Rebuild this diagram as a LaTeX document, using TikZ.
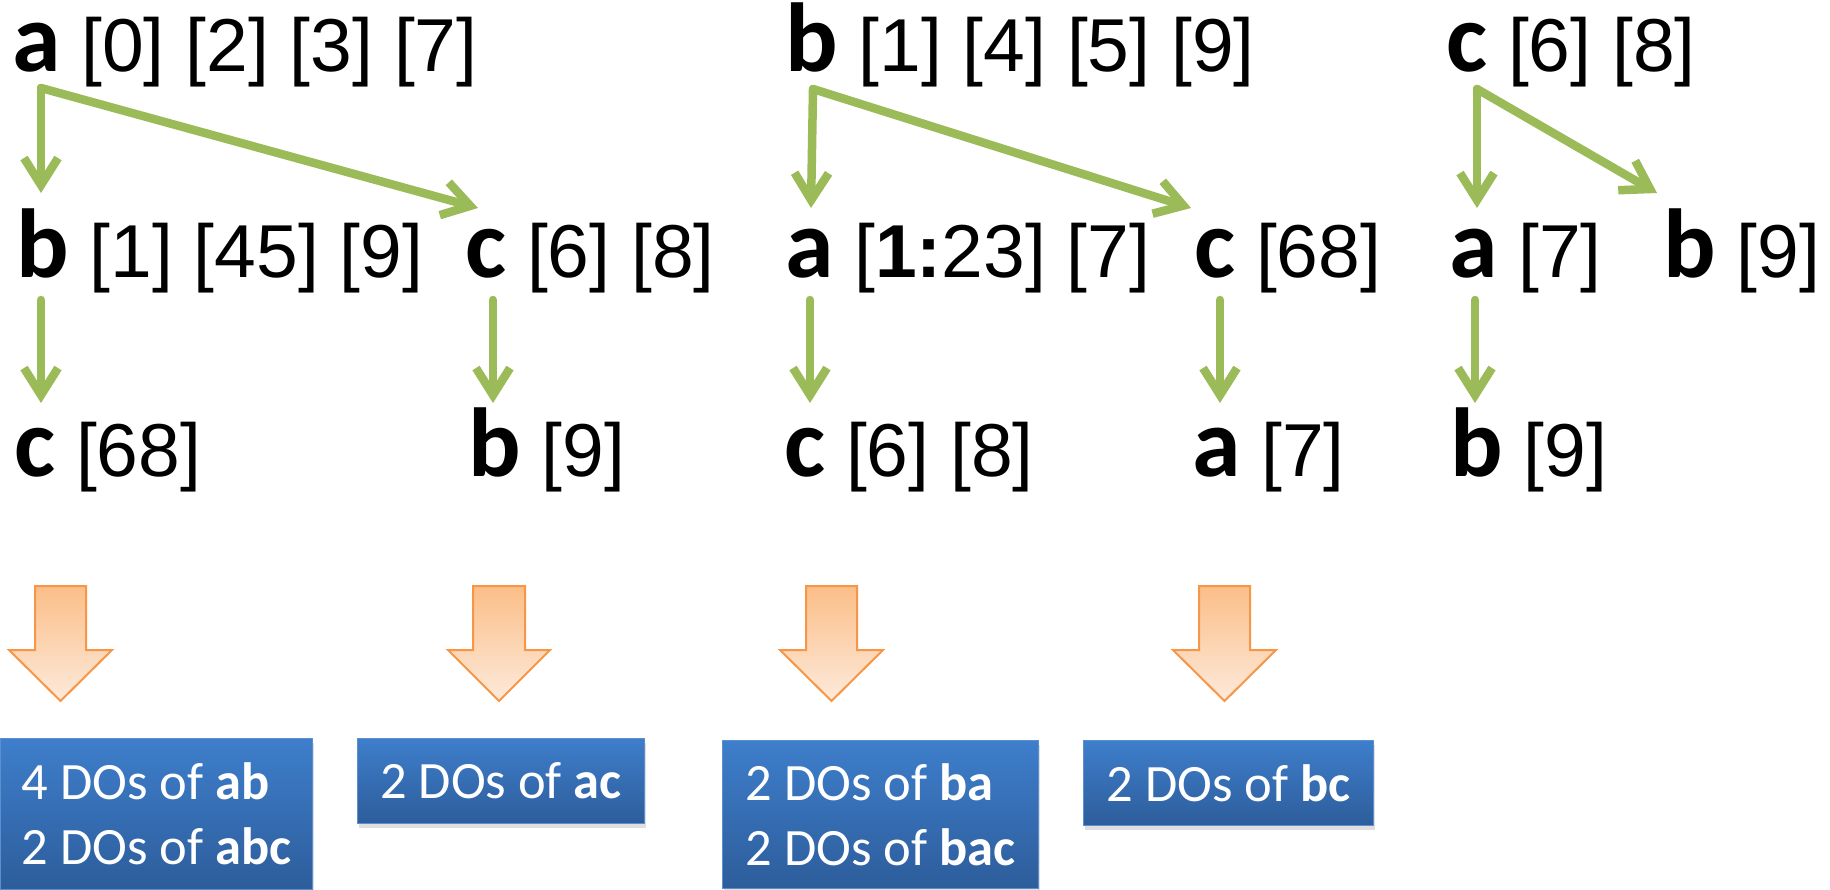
\documentclass[tikz,border=0pt]{standalone}
\usepackage{fontspec}
\usetikzlibrary{arrows.meta,shadows}
\newfontfamily\numf{Liberation Sans}
\newfontfamily\letf{Carlito}
\definecolor{gr}{HTML}{9BBB59}
\definecolor{orTop}{HTML}{FBBE88}
\definecolor{orBot}{HTML}{FDEADB}
\definecolor{orLine}{HTML}{F79646}
\definecolor{blTop}{HTML}{3E7ECB}
\definecolor{blBot}{HTML}{2D5D9B}
\definecolor{blLine}{HTML}{5B8FD0}
\newcommand\Lt[1]{{\letf\bfseries\fontsize{98}{100}\selectfont #1}}
\tikzset{
  lbl/.style={anchor=base west, inner sep=0pt, font=\numf\fontsize{75}{80}\selectfont},
  garrow/.style={draw=gr, line width=8.5pt, line cap=round, line join=round,
    -{Straight Barb[length=27pt,width=34pt]}},
  blockarrow/.style={draw=orLine, line width=2pt, top color=orTop, bottom color=orBot, line join=miter},
  dobox/.style={anchor=north west, draw=blLine, line width=1pt, top color=blTop, bottom color=blBot,
    text=white, align=left, font=\letf\fontsize{52.5}{65}\selectfont, inner sep=0pt,
    drop shadow={opacity=0.25, shadow xshift=1pt, shadow yshift=-4pt}}
}
\begin{document}
\begin{tikzpicture}[x=1pt,y=-1pt]
\useasboundingbox (0,0) rectangle (1830,889);
% row 1
\node[lbl] (a0) at (12,71) {\Lt{a} [0] [2] [3] [7]};
\node[lbl] (b0) at (785,71) {\Lt{b} [1] [4] [5] [9]};
\node[lbl] (c0) at (1446,71) {\Lt{c} [6] [8]};
% row 2
\node[lbl] (ab) at (16,277) {\Lt{b} [1] [45] [9]};
\node[lbl] (ac) at (465,277) {\Lt{c} [6] [8]};
\node[lbl] (ba) at (785,277) {\Lt{a} [{\bfseries 1:}23] [7]};
\node[lbl] (bc) at (1194,277) {\Lt{c} [68]};
\node[lbl] (ca) at (1449,277) {\Lt{a} [7]};
\node[lbl] (cb) at (1663,277) {\Lt{b} [9]};
% row 3
\node[lbl] (abc) at (14,476) {\Lt{c} [68]};
\node[lbl] (acb) at (468,476) {\Lt{b} [9]};
\node[lbl] (bac) at (784,476) {\Lt{c} [6] [8]};
\node[lbl] (bca) at (1192,476) {\Lt{a} [7]};
\node[lbl] (cab) at (1450,476) {\Lt{b} [9]};
% connector coordinates
\coordinate (s1) at (41,88);
\coordinate (e1v) at (41,193);
\coordinate (e1d) at (478,208);
\coordinate (s2) at (813,89);
\coordinate (e2v) at (811,208);
\coordinate (e2d) at (1191,208);
\coordinate (s3) at (1477,89);
\coordinate (e3v) at (1477,208);
\coordinate (e3d) at (1657,193);
\draw[garrow] (s1) -- (e1v);
\draw[garrow] (s1) -- (e1d);
\draw[garrow] (s2) -- (e2v);
\draw[garrow] (s2) -- (e2d);
\draw[garrow] (s3) -- (e3v);
\draw[garrow] (s3) -- (e3d);
\foreach \n/\x in {ab/41, ac/493, ba/810, bc/1220, ca/1475}{
  \coordinate (\n t) at (\x,300);
  \coordinate (\n h) at (\x,403);
  \draw[garrow] (\n t) -- (\n h);
}
% orange block arrows
\foreach \l/\r/\hl/\hr in {35/86/9/112, 473/525/448/550, 806/857/780/883, 1199/1250/1173/1276}{
  \path[blockarrow] (\l,586) -- (\r,586) -- (\r,650) -- (\hr,650) -- ({(\hl+\hr)/2},701) -- (\hl,650) -- (\l,650) -- cycle;
}
% result boxes
\node[dobox, minimum width=312pt, minimum height=151pt] (r1) at (0,738) {4 DOs of \textbf{ab}\\2 DOs of \textbf{abc}};
\node[dobox, minimum width=287pt, minimum height=85pt] (r2) at (357,738) {2 DOs of \textbf{ac}};
\node[dobox, minimum width=316pt, minimum height=148pt] (r3) at (722,740) {2 DOs of \textbf{ba}\\2 DOs of \textbf{bac}};
\node[dobox, minimum width=290pt, minimum height=85pt] (r4) at (1083,740) {2 DOs of \textbf{bc}};
\end{tikzpicture}
\end{document}
